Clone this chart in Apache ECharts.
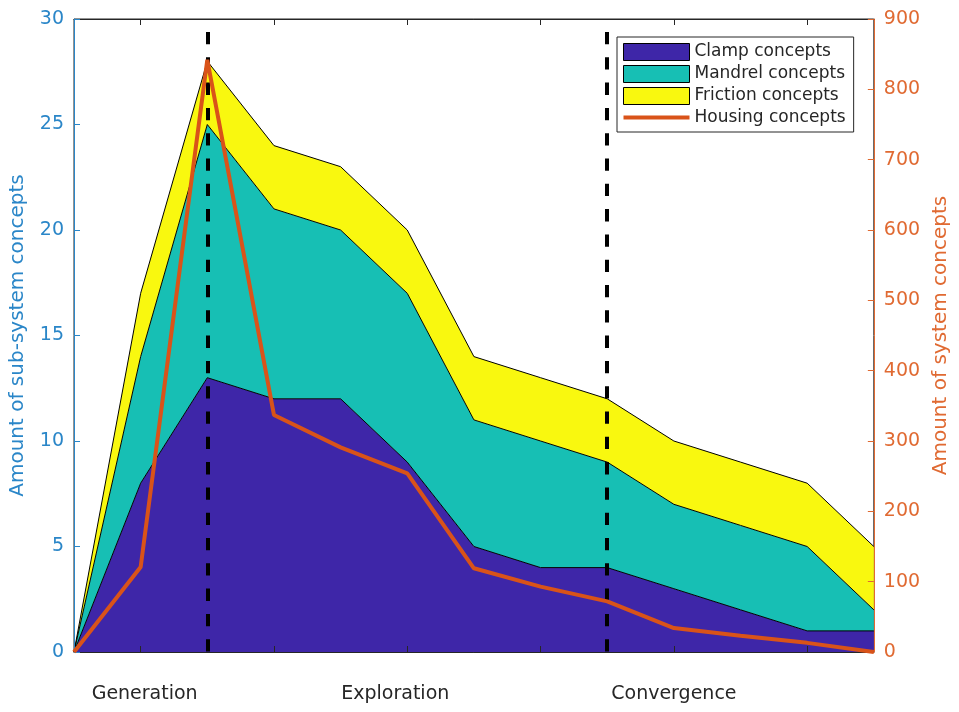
<!DOCTYPE html>
<html>
<head>
<meta charset="utf-8">
<script src="https://cdn.jsdelivr.net/npm/echarts@6/dist/echarts.min.js"></script>
<style>html,body{margin:0;padding:0;background:#fff;}#c{width:959px;height:712px;}</style>
</head>
<body>
<div id="c"></div>
<script>
// ---- data ----
const stages = ['0','1','2','3','4','5','6','7','8','9','10','11','12'];
const phaseLabels = ['', 'Generation', '', '', '', 'Exploration', '', '', '', 'Convergence', '', '', ''];
const phaseBoundaries = [2, 8];
const clamp    = [0, 8, 13, 12, 12, 9, 5, 4, 4, 3, 2, 1, 1];
const mandrel  = [0, 6, 12, 9, 8, 8, 6, 6, 5, 4, 4, 4, 1];
const friction = [0, 3, 3, 3, 3, 3, 3, 3, 3, 3, 3, 3, 3];
const housing  = [0, 121, 842, 337, 291, 254, 119, 93, 72, 34, 23, 13, 0];
const leftTicks = {min: 0, max: 30, interval: 5};
const rightTicks = {min: 0, max: 900, interval: 100};

const FONT = 'DejaVu Sans';
const BLUE = '#2a86c8';
const ORANGE = '#e06a32';
const DARK = '#262626';
const C_CLAMP = '#3e26a8', C_MANDREL = '#17bfb4', C_FRICTION = '#f9f80f', C_HOUSING = '#d95319';

const chart = echarts.init(document.getElementById('c'), null, {renderer: 'canvas'});

function areaSeries(name, data, color, extra) {
  return Object.assign({
    name: name, type: 'line', stack: 'total', data: data,
    symbol: 'none', showSymbol: false,
    itemStyle: {color: color},
    lineStyle: {color: '#000', width: 1},
    areaStyle: {color: color, opacity: 1},
    emphasis: {disabled: true},
    z: 2
  }, extra || {});
}

const oddTick = function (idx) { return idx % 2 === 1; };

chart.setOption({
  animation: false,
  backgroundColor: '#fff',
  grid: {left: 73, right: 83, top: 19, bottom: 60, containLabel: false,
         show: true, borderColor: DARK, borderWidth: 1, backgroundColor: 'transparent'},
  legend: {
    orient: 'vertical', left: 617, top: 37,
    padding: [6, 8, 6, 6],
    itemWidth: 66, itemHeight: 17, itemGap: 4,
    backgroundColor: '#fff', borderColor: DARK, borderWidth: 1,
    textStyle: {fontFamily: FONT, fontSize: 17, color: DARK, lineHeight: 17},
    selectedMode: false,
    data: [
      {name: 'Clamp concepts', icon: 'rect', itemStyle: {color: C_CLAMP, borderColor: '#000', borderWidth: 1}},
      {name: 'Mandrel concepts', icon: 'rect', itemStyle: {color: C_MANDREL, borderColor: '#000', borderWidth: 1}},
      {name: 'Friction concepts', icon: 'rect', itemStyle: {color: C_FRICTION, borderColor: '#000', borderWidth: 1}},
      {name: 'Housing concepts', icon: 'path://M0,0H66V4H0Z', itemStyle: {color: C_HOUSING, borderWidth: 0}}
    ]
  },
  xAxis: [
    {
      type: 'category', data: stages, boundaryGap: false, position: 'bottom', z: 4,
      axisLine: {show: true, onZero: false, lineStyle: {color: DARK, width: 1}},
      axisTick: {show: true, inside: true, length: 6, interval: oddTick, lineStyle: {color: DARK}},
      axisLabel: {
        show: true, interval: oddTick, margin: 33,
        formatter: function (v, i) {
          const t = phaseLabels[i];
          if (!t) return '';
          if (i === 1) return '{g|' + t + '}';
          if (i === 5) return '{e|' + t + '}';
          return '{c|' + t + '}';
        },
        rich: {
          g: {fontFamily: FONT, fontSize: 19, color: DARK, padding: [0, 0, 0, 8]},
          e: {fontFamily: FONT, fontSize: 19, color: DARK, padding: [0, 24, 0, 0]},
          c: {fontFamily: FONT, fontSize: 19, color: DARK}
        }
      },
      splitLine: {show: false}
    },
    {
      type: 'category', data: stages, boundaryGap: false, position: 'top', gridIndex: 0, z: 4,
      axisLine: {show: true, onZero: false, lineStyle: {color: DARK, width: 1}},
      axisTick: {show: true, inside: true, length: 6, interval: oddTick, lineStyle: {color: DARK}},
      axisLabel: {show: false},
      splitLine: {show: false}
    }
  ],
  yAxis: [
    {
      type: 'value', position: 'left', min: leftTicks.min, max: leftTicks.max, interval: leftTicks.interval, z: 4,
      name: 'Amount of sub-system concepts', nameLocation: 'middle', nameGap: 46,
      nameTextStyle: {fontFamily: FONT, fontSize: 20, color: BLUE},
      axisLine: {show: true, onZero: false, lineStyle: {color: BLUE, width: 1}},
      axisTick: {show: true, inside: true, length: 6, lineStyle: {color: BLUE}},
      axisLabel: {fontFamily: FONT, fontSize: 19, color: BLUE, margin: 10},
      splitLine: {show: false}
    },
    {
      type: 'value', position: 'right', min: rightTicks.min, max: rightTicks.max, interval: rightTicks.interval, z: 4,
      name: 'Amount of system concepts', nameLocation: 'middle', nameGap: 57,
      nameTextStyle: {fontFamily: FONT, fontSize: 20, color: ORANGE},
      axisLine: {show: true, onZero: false, lineStyle: {color: ORANGE, width: 1}},
      axisTick: {show: true, inside: true, length: 6, lineStyle: {color: ORANGE}},
      axisLabel: {fontFamily: FONT, fontSize: 19, color: ORANGE, margin: 10},
      splitLine: {show: false}
    }
  ],
  series: [
    areaSeries('Clamp concepts', clamp, C_CLAMP),
    areaSeries('Mandrel concepts', mandrel, C_MANDREL),
    areaSeries('Friction concepts', friction, C_FRICTION, {
      markLine: {
        silent: true, symbol: ['none', 'none'], label: {show: false},
        lineStyle: {color: '#000', width: 4, type: [12.3, 13], dashOffset: 12.3},
        emphasis: {disabled: true},
        data: phaseBoundaries.map(function (b) {
          return [{xAxis: b, yAxis: leftTicks.max}, {xAxis: b, yAxis: leftTicks.min}];
        })
      }
    }),
    {
      name: 'Housing concepts', type: 'line', yAxisIndex: 1, data: housing,
      symbol: 'none', showSymbol: false,
      itemStyle: {color: C_HOUSING},
      lineStyle: {color: C_HOUSING, width: 4},
      emphasis: {disabled: true},
      z: 10
    }
  ]
});
</script>
</body>
</html>
